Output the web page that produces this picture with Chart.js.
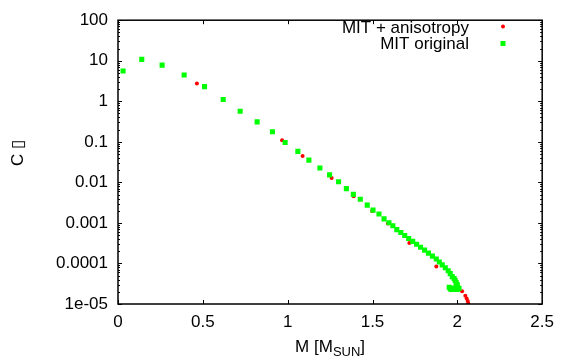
<!DOCTYPE html>
<html>
<head>
<meta charset="utf-8">
<script src="https://cdn.jsdelivr.net/npm/chart.js@4"></script>
<style>
  html, body { margin: 0; padding: 0; background: #fff; }
</style>
</head>
<body>
<canvas id="chart" width="562" height="357"></canvas>
<script>
// MIT + anisotropy (red dots)
const redM = [0.465, 0.967, 1.088, 1.259, 1.389, 1.498, 1.591, 1.717, 1.876, 2.028, 2.047, 2.055, 2.061, 2.064];
const redC = [2.74, 0.109, 0.0449, 0.0128, 0.00452, 0.00196, 0.00097, 0.000318, 8.4e-5, 2.06e-5, 1.59e-5, 1.37e-5, 1.18e-5, 1.04e-5];

// MIT original (green squares)
const greenM = [0.03, 0.14, 0.26, 0.39, 0.51, 0.62, 0.72, 0.82, 0.91, 0.985, 1.06, 1.125, 1.19, 1.247, 1.30,
  1.346, 1.387, 1.428, 1.469, 1.503, 1.538, 1.568, 1.597, 1.62, 1.643, 1.667, 1.690, 1.713, 1.737, 1.760,
  1.783, 1.807, 1.830, 1.853, 1.876, 1.894, 1.911, 1.929, 1.946, 1.958, 1.970, 1.981, 1.987, 1.993, 1.999,
  1.999, 1.993, 1.981, 1.970, 1.958, 1.952, 1.964, 1.981, 1.999, 2.010];
const greenC = [5.6, 10.8, 7.8, 4.45, 2.3, 1.11, 0.57, 0.31, 0.177, 0.096, 0.058, 0.0353, 0.0226, 0.0153, 0.0104,
  0.0070, 0.00506, 0.00383, 0.00274, 0.00207, 0.00166, 0.00126, 0.00101, 0.000853, 0.000683, 5.78e-4, 4.90e-4, 4.14e-4, 3.51e-4, 2.97e-4,
  2.51e-4, 2.13e-4, 1.80e-4, 1.52e-4, 1.29e-4, 1.09e-4, 9.25e-5, 7.82e-5, 6.62e-5, 5.61e-5, 4.74e-5, 4.25e-5, 3.80e-5, 3.40e-5, 3.04e-5,
  2.72e-5, 2.58e-5, 2.43e-5, 2.43e-5, 2.43e-5, 2.58e-5, 2.30e-5, 2.30e-5, 2.30e-5, 2.43e-5];

const xTicks = [0, 0.5, 1, 1.5, 2, 2.5];
const yTicks = [1e-5, 1e-4, 1e-3, 1e-2, 1e-1, 1, 10, 100];
const yTickLabels = ['1e-05', '0.0001', '0.001', '0.01', '0.1', '1', '10', '100'];

const FONT = "'Liberation Sans', Arial, sans-serif";
Chart.defaults.font.family = FONT;
Chart.defaults.font.size = 17;
Chart.defaults.color = '#000';

const toPoints = (xs, ys) => xs.map((x, i) => ({ x: x, y: ys[i] }));

// border, inward ticks, legend and axis titles in gnuplot style
const gnuplotFrame = {
  id: 'gnuplotFrame',
  afterDatasetsDraw(chart) {
    const ctx = chart.ctx;
    const a = chart.chartArea;
    const xs = chart.scales.x, ys = chart.scales.y;
    ctx.save();
    ctx.strokeStyle = '#000';
    ctx.lineWidth = 1;

    ctx.beginPath();
    xTicks.forEach(v => {
      const px = Math.round(xs.getPixelForValue(v)) + 0.5;
      ctx.moveTo(px, a.bottom); ctx.lineTo(px, a.bottom - 4);
      ctx.moveTo(px, a.top); ctx.lineTo(px, a.top + 4);
    });
    yTicks.forEach((v, i) => {
      const py = Math.round(ys.getPixelForValue(v)) + 0.5;
      ctx.moveTo(a.left, py); ctx.lineTo(a.left + 4, py);
      ctx.moveTo(a.right, py); ctx.lineTo(a.right - 4, py);
      if (i < yTicks.length - 1) {
        for (let m = 2; m <= 9; m++) {
          const pm = Math.round(ys.getPixelForValue(v * m)) + 0.5;
          ctx.moveTo(a.left, pm); ctx.lineTo(a.left + 2, pm);
          ctx.moveTo(a.right, pm); ctx.lineTo(a.right - 2, pm);
        }
      }
    });
    ctx.stroke();

    ctx.lineWidth = 1.5;
    ctx.strokeRect(a.left, a.top, a.right - a.left, a.bottom - a.top);

    // legend
    ctx.font = '17px ' + FONT;
    ctx.textAlign = 'right';
    ctx.textBaseline = 'alphabetic';
    const legendOrder = [1, 0];
    legendOrder.forEach((di, row) => {
      const ds = chart.data.datasets[di];
      const base = 32.5 + row * 16.5;
      ctx.fillStyle = '#000';
      ctx.fillText(ds.label, 469, base);
      ctx.fillStyle = ds.backgroundColor;
      if (ds.pointStyle === 'rect') {
        ctx.fillRect(500.5, base - 8, 5, 5);
      } else {
        ctx.beginPath();
        ctx.arc(503, base - 6, 2, 0, Math.PI * 2);
        ctx.fill();
      }
    });

    // x title with subscript
    ctx.fillStyle = '#000';
    ctx.textAlign = 'left';
    const main = 'M [M', sub = 'SUN', end = ']';
    ctx.font = '17px ' + FONT;
    const w1 = ctx.measureText(main).width, w3 = ctx.measureText(end).width;
    ctx.font = '13px ' + FONT;
    const w2 = ctx.measureText(sub).width;
    const x0 = (a.left + a.right) / 2 - (w1 + w2 + w3) / 2;
    const yb = 352;
    ctx.font = '17px ' + FONT;
    ctx.fillText(main, x0, yb);
    ctx.font = '13px ' + FONT;
    ctx.fillText(sub, x0 + w1, yb + 4);
    ctx.font = '17px ' + FONT;
    ctx.fillText(end, x0 + w1 + w2, yb);

    // y title
    ctx.translate(23, 153);
    ctx.rotate(-Math.PI / 2);
    ctx.textAlign = 'center';
    ctx.fillText('C \u25AF', 0, 0);
    ctx.restore();
  }
};

new Chart(document.getElementById('chart'), {
  type: 'scatter',
  data: {
    datasets: [
      {
        label: 'MIT original',
        data: toPoints(greenM, greenC),
        backgroundColor: '#00ff00',
        pointStyle: 'rect',
        pointRadius: 3.6,
        pointBorderWidth: 0,
        order: 1
      },
      {
        label: 'MIT + anisotropy',
        data: toPoints(redM, redC),
        backgroundColor: '#ff0000',
        pointStyle: 'circle',
        pointRadius: 2,
        pointBorderWidth: 0,
        order: 2
      }
    ]
  },
  options: {
    responsive: false,
    animation: false,
    devicePixelRatio: 1,
    layout: { padding: { top: 14, right: 15, left: 0, bottom: 0 } },
    plugins: {
      legend: { display: false },
      tooltip: { enabled: false }
    },
    elements: { point: { hoverRadius: 0 } },
    scales: {
      x: {
        type: 'linear',
        min: 0,
        max: 2.5,
        afterBuildTicks: s => { s.ticks = xTicks.map(v => ({ value: v })); },
        ticks: { padding: 8, maxRotation: 0, callback: v => String(v) },
        grid: { display: false, drawTicks: false },
        border: { display: false },
        afterFit: s => { s.height = 53; }
      },
      y: {
        type: 'logarithmic',
        min: 1e-5,
        max: 100,
        afterBuildTicks: s => { s.ticks = yTicks.map(v => ({ value: v })); },
        ticks: { padding: 10, callback: (v, i) => yTickLabels[i] },
        grid: { display: false, drawTicks: false },
        border: { display: false },
        afterFit: s => { s.width = 118; }
      }
    }
  },
  plugins: [gnuplotFrame]
});
</script>
</body>
</html>
